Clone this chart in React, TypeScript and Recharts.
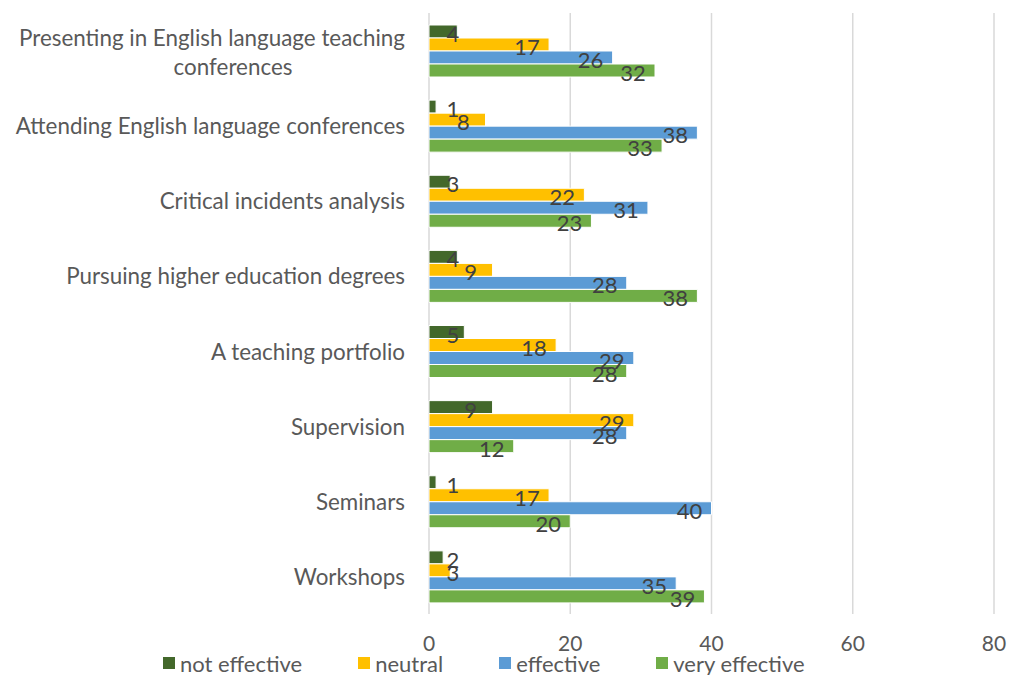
import React from "react";
import { BarChart, Bar, XAxis, YAxis, CartesianGrid, Legend, LabelList } from "recharts";

const categories = [
  "Presenting in English language teaching conferences",
  "Attending English language conferences",
  "Critical incidents analysis",
  "Pursuing higher education degrees",
  "A teaching portfolio",
  "Supervision",
  "Seminars",
  "Workshops",
];
const notEffective = [4, 1, 3, 4, 5, 9, 1, 2];
const neutral = [17, 8, 22, 9, 18, 29, 17, 3];
const effective = [26, 38, 31, 28, 29, 28, 40, 35];
const veryEffective = [32, 33, 23, 38, 28, 12, 20, 39];
const xTicks = [0, 20, 40, 60, 80];

const seriesDefs = [
  { key: "notEffective", name: "not effective", color: "#43682B" },
  { key: "neutral", name: "neutral", color: "#FFC000" },
  { key: "effective", name: "effective", color: "#5B9BD5" },
  { key: "veryEffective", name: "very effective", color: "#70AD47" },
];

const data = categories.map((c, i) => ({
  category: c,
  notEffective: notEffective[i],
  neutral: neutral[i],
  effective: effective[i],
  veryEffective: veryEffective[i],
}));

const FONT = "Lato, 'Open Sans', sans-serif";

const CategoryTick = (props: any) => {
  const { x, y, payload } = props;
  const label: string = payload.value;
  const right = x - 16;
  if (label.length > 45) {
    const idx = label.lastIndexOf(" ");
    const l1 = label.slice(0, idx);
    const l2 = label.slice(idx + 1);
    return (
      <g>
        <text x={right} y={y - 13} textAnchor="end" dominantBaseline="central" fill="#595959" fontSize={22.4} fontFamily={FONT}>
          {l1}
        </text>
        <text x={right - 172} y={y + 16} textAnchor="middle" dominantBaseline="central" fill="#595959" fontSize={22.4} fontFamily={FONT}>
          {l2}
        </text>
      </g>
    );
  }
  return (
    <text x={right} y={y} textAnchor="end" dominantBaseline="central" fill="#595959" fontSize={22.4} fontFamily={FONT}>
      {label}
    </text>
  );
};

const ValueLabel = (props: any) => {
  const { x, y, width, height, value } = props;
  const cx = Math.max(x + width - 22, x + 24);
  return (
    <text x={cx} y={y + height / 2 + 2} textAnchor="middle" dominantBaseline="central" fill="#404040" fontSize={22} fontFamily={FONT}>
      {value}
    </text>
  );
};

const LegendContent = () => (
  <div style={{ display: "flex", alignItems: "center", fontFamily: FONT, fontSize: 22, color: "#595959", height: 22, whiteSpace: "nowrap" }}>
    {seriesDefs.map((s) => (
      <div key={s.key} style={{ display: "flex", alignItems: "center", marginRight: 56 }}>
        <span style={{ display: "inline-block", width: 12, height: 12, background: s.color, marginRight: 5 }} />
        <span>{s.name}</span>
      </div>
    ))}
  </div>
);

export default function App() {
  return (
    <div style={{ position: "absolute", left: 0, top: 0, width: 1009, height: 675, background: "#fff", overflow: "hidden" }}>
      <BarChart
        width={1009}
        height={675}
        data={data}
        layout="vertical"
        margin={{ top: 13, right: 15, left: 0, bottom: 0 }}
        barGap={0}
        barSize={13}
      >
        <CartesianGrid horizontal={false} stroke="#d9d9d9" strokeWidth={1.5} />
        <XAxis
          type="number"
          domain={[0, 80]}
          ticks={xTicks}
          axisLine={false}
          tickLine={false}
          height={39}
          tickMargin={16}
          tick={{ fill: "#595959", fontSize: 21, fontFamily: FONT }}
        />
        <YAxis type="category" dataKey="category" width={429} axisLine={false} tickLine={false} tick={<CategoryTick />} interval={0} />
        <Legend content={<LegendContent />} wrapperStyle={{ top: 652, left: 163, width: 840 }} />
        {seriesDefs.map((s) => (
          <Bar key={s.key} dataKey={s.key} name={s.name} fill={s.color} stroke="#ffffff" strokeWidth={1} isAnimationActive={false}>
            <LabelList dataKey={s.key} content={<ValueLabel />} />
          </Bar>
        ))}
      </BarChart>
    </div>
  );
}
